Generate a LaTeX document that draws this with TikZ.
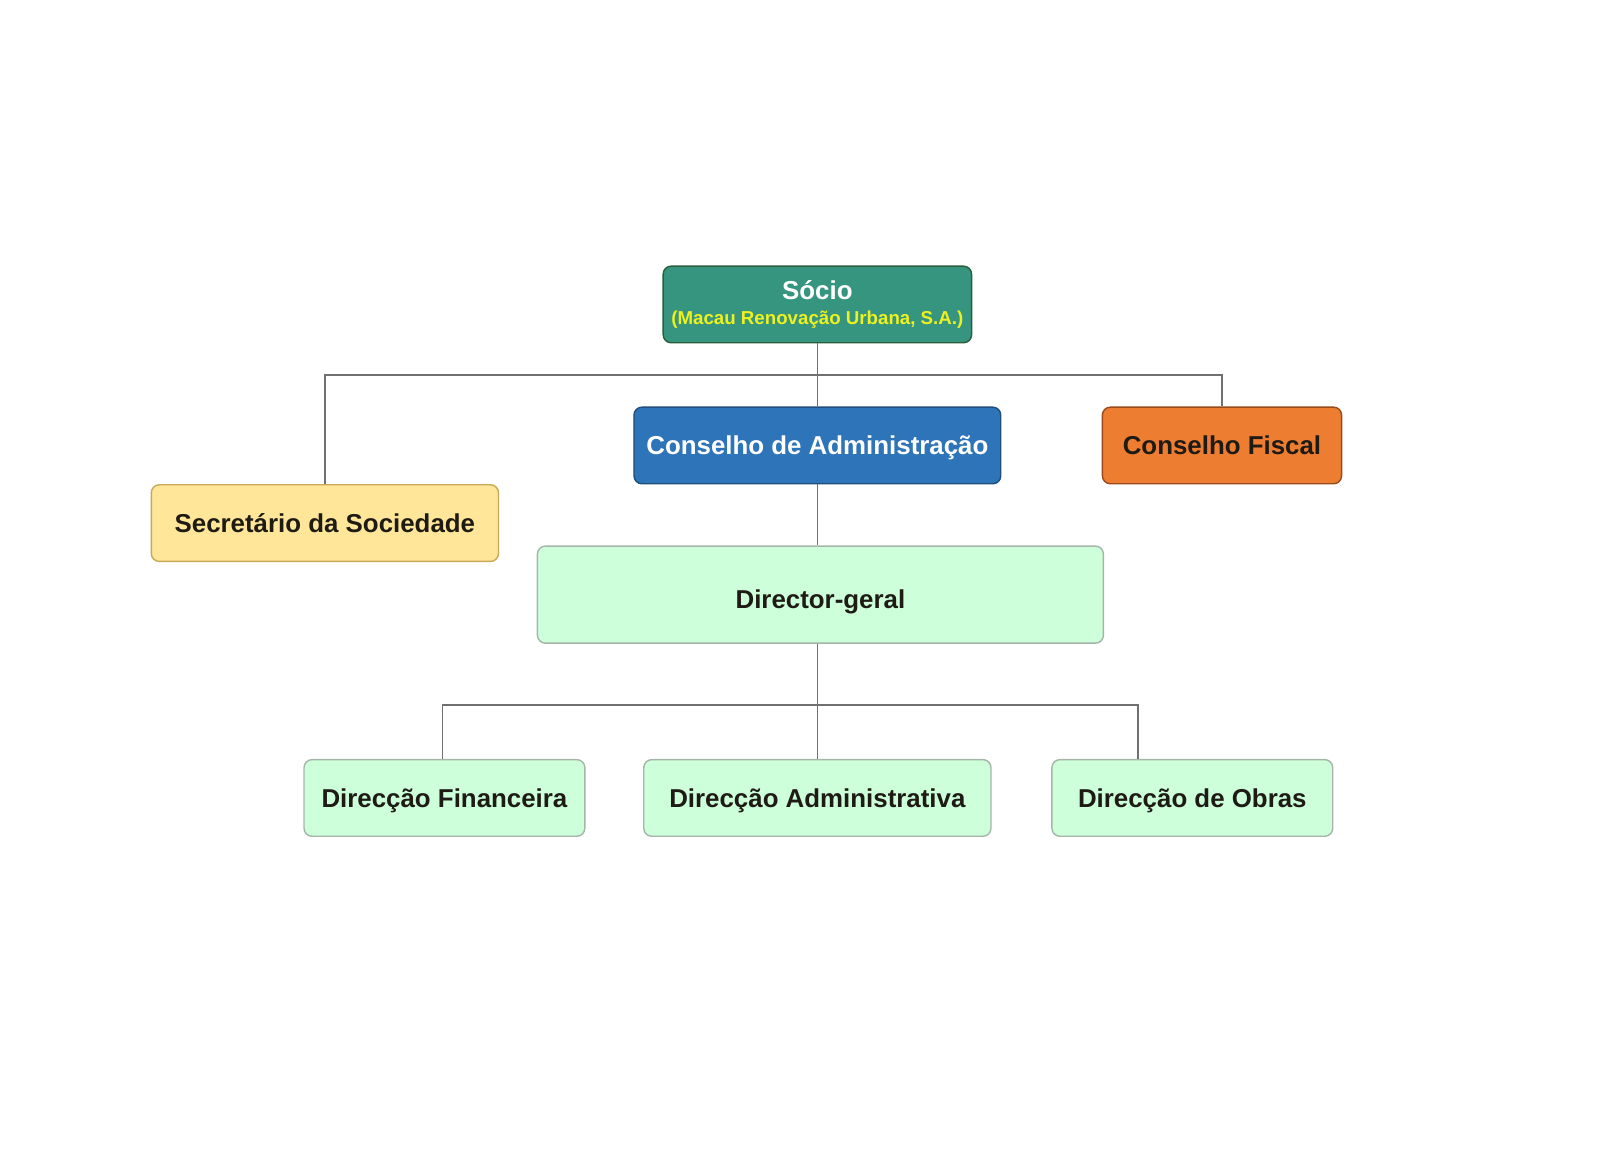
\documentclass[tikz,border=0pt]{standalone}
\usepackage{fontspec}
\setmainfont{Liberation Sans}
\usepackage{tikz}
\usetikzlibrary{positioning}

\definecolor{socioFill}{HTML}{36957F}
\definecolor{socioDraw}{HTML}{2B5E3C}
\definecolor{admFill}{HTML}{2E74B8}
\definecolor{admDraw}{HTML}{1F4E7A}
\definecolor{fiscalFill}{HTML}{ED7D31}
\definecolor{fiscalDraw}{HTML}{9A4A1C}
\definecolor{secFill}{HTML}{FFE699}
\definecolor{secDraw}{HTML}{C9A955}
\definecolor{dirFill}{HTML}{CCFFDA}
\definecolor{dirDraw}{HTML}{A5B5A8}
\definecolor{subYellow}{HTML}{EEF020}
\definecolor{darkText}{HTML}{1E1A14}
\definecolor{lineGray}{HTML}{707070}

\begin{document}
\begin{tikzpicture}[
	x=0.02554cm, y=-0.02554cm,
	font=\bfseries\fontsize{18.4}{21.5}\selectfont
	]
\tikzset{
	base/.style = { rectangle, rounded corners=0.2cm, text centered, line width=1pt, minimum height=1.916cm, inner sep=0pt, text=darkText },
	oneLine/.style = { base, text depth=0pt },
	socioBox/.style = { base, fill=socioFill, draw=socioDraw, text=white, align=center, minimum width=7.71cm },
	admBox/.style = { oneLine, fill=admFill, draw=admDraw, text=white, minimum width=9.17cm },
	fiscalBox/.style = { oneLine, fill=fiscalFill, draw=fiscalDraw, minimum width=5.98cm },
	secBox/.style = { oneLine, fill=secFill, draw=secDraw, minimum width=8.68cm },
	dirBox/.style = { oneLine, fill=dirFill, draw=dirDraw },
	line/.style = { line width=1.2pt, draw=lineGray },
	coord/.style = { coordinate }
}
	\useasboundingbox (0,0) rectangle (1566,1144.2);

	% top level
	\node (socio) [socioBox] at (800,298) {Sócio\\[-4pt]{\fontsize{13.3}{15}\selectfont\color{subYellow}(Macau Renovação Urbana, S.A.)}};
	\node (consAdm) [admBox] at (800,436) {Conselho de Administração};
	\node (consFiscal) [fiscalBox] at (1196,436) {Conselho Fiscal};
	\node (secretario) [secBox] at (318,512) {Secretário da Sociedade};

	% director
	\node (director) [dirBox, minimum width=14.15cm, minimum height=2.427cm, text height=20pt] at (803,582) {Director-geral};

	% directions
	\node (dirAdm) [dirBox, minimum width=8.68cm] at (800,781) {Direcção Administrativa};
	\node (dirFin) [dirBox, minimum width=7.02cm] at (435,781) {Direcção Financeira};
	\node (dirObras) [dirBox, minimum width=7.02cm] at (1167,781) {Direcção de Obras};

	\node (busTop) [coord] at (800,367) {};
	\node (busLow) [coord] at (800,690) {};
	\node (obrasIn) [coord] at (1114,743) {};

	% paths
	\draw [line] (socio) -- (consAdm);
	\draw [line] (busTop) -| (secretario);
	\draw [line] (busTop) -| (consFiscal);
	\draw [line] (consAdm) -- (director.north -| consAdm);

	\draw [line] (director.south -| dirAdm) -- (dirAdm);
	\draw [line] (busLow) -| (dirFin.north -| 433,0);
	\draw [line] (busLow) -| (obrasIn);

\end{tikzpicture}
\end{document}
